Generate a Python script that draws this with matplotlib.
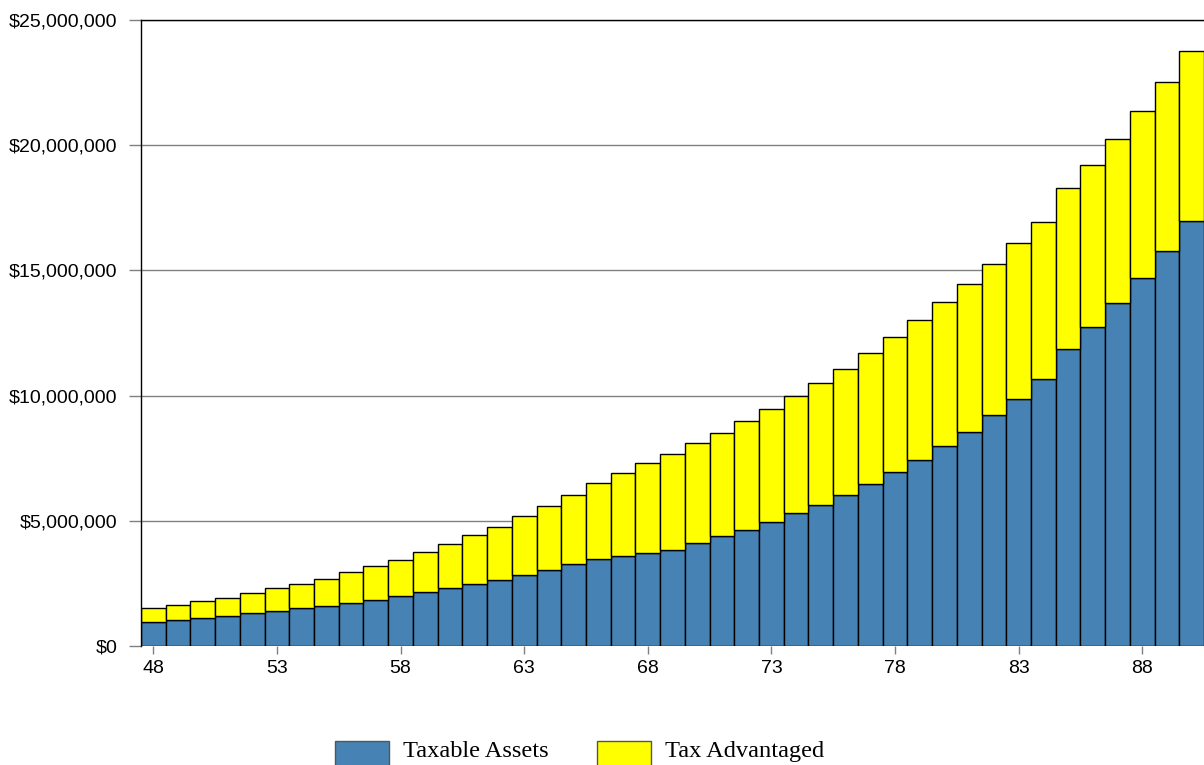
import matplotlib
matplotlib.use("Agg")
import matplotlib.pyplot as plt
from matplotlib.patches import Rectangle
from matplotlib.ticker import FuncFormatter, MultipleLocator

# Projected balances by age, in thousands of dollars
ages = list(range(48, 91))
taxable_assets = [
    958, 1026, 1106, 1186, 1306, 1386, 1506, 1609, 1729, 1837,
    1985, 2145, 2304, 2464, 2648, 2835, 3023, 3275, 3486, 3606,
    3702, 3822, 4101, 4381, 4645, 4952, 5299, 5631, 6030, 6458,
    6949, 7440, 7980, 8540, 9214, 9883, 10649, 11856, 12720, 13682,
    14677, 15786, 16976,
]
tax_advantaged = [
    548, 599, 679, 743, 811, 918, 982, 1079, 1238, 1358,
    1461, 1621, 1769, 1957, 2116, 2345, 2580, 2743, 3035, 3303,
    3594, 3846, 3994, 4125, 4328, 4525, 4673, 4872, 5044, 5243,
    5403, 5567, 5740, 5905, 6034, 6196, 6295, 6425, 6507, 6572,
    6703, 6751, 6801,
]
series_names = ["Taxable Assets", "Tax Advantaged"]
series_colors = ["#4682B4", "#FFFF00"]
x_ticks = [48, 53, 58, 63, 68, 73, 78, 83, 88]

taxable = [v * 1000 for v in taxable_assets]
advantaged = [v * 1000 for v in tax_advantaged]

fig = plt.figure(figsize=(12.04, 7.65), dpi=100)
ax = fig.add_axes([141 / 1204, 1 - 646 / 765, 1 - 141 / 1204, (646 - 20) / 765])

grid_color = "#808080"
ax.set_axisbelow(True)
ax.yaxis.grid(True, color=grid_color, linewidth=1.0)
ax.xaxis.grid(False)

ax.bar(ages, taxable, width=1.0, color=series_colors[0],
       edgecolor="black", linewidth=1.0, zorder=3)
ax.bar(ages, advantaged, width=1.0, bottom=taxable, color=series_colors[1],
       edgecolor="black", linewidth=1.0, zorder=3)

ax.set_xlim(47.5, 90.5)
ax.set_ylim(0, 25_000_000)
ax.yaxis.set_major_locator(MultipleLocator(5_000_000))
ax.yaxis.set_major_formatter(FuncFormatter(lambda v, p: f"${v:,.0f}"))
ax.set_xticks(x_ticks)

label_font = "Liberation Sans"
for lab in ax.get_xticklabels() + ax.get_yticklabels():
    lab.set_fontfamily(label_font)
    lab.set_fontsize(14)

ax.tick_params(axis="y", direction="out", length=8.6, width=1.0,
               color=grid_color, pad=8.2)
ax.tick_params(axis="x", direction="out", length=6, width=1.0,
               color=grid_color, pad=4)

ax.spines["right"].set_visible(False)
ax.spines["bottom"].set_visible(False)
ax.spines["top"].set_color("black")
ax.spines["top"].set_linewidth(1.0)
ax.spines["left"].set_color("black")
ax.spines["left"].set_linewidth(1.0)
ax.spines["left"].set_zorder(4)

# Legend row along the bottom edge
legend_items = [
    (335, 403),
    (597, 665),
]
for (px, tx), name, col in zip(legend_items, series_names, series_colors):
    fig.patches.append(Rectangle((px / 1204, -0.05), 54 / 1204, 0.05 + (1 - 741 / 765),
                                 transform=fig.transFigure, facecolor=col,
                                 edgecolor="#555555", linewidth=1.0))
    fig.text(tx / 1204, 1 - 757 / 765, name, family="Liberation Serif",
             fontsize=17.6, ha="left", va="baseline", color="black")

fig.savefig("out.png", dpi=100)
